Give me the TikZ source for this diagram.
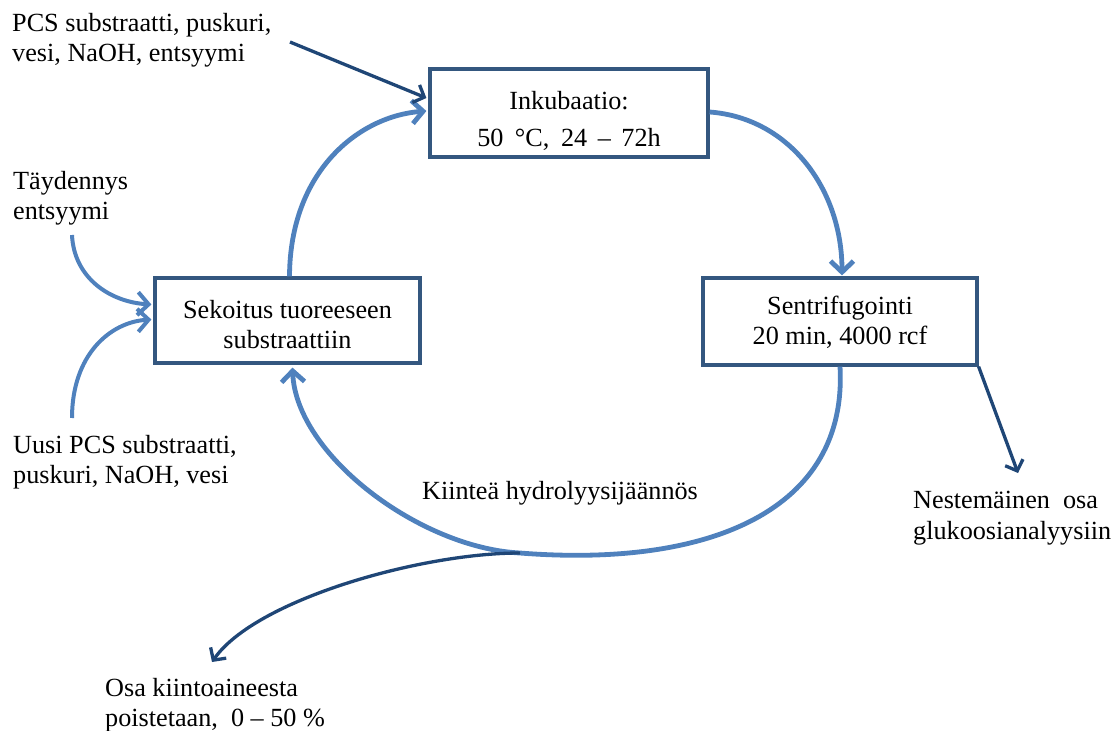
\documentclass[tikz,border=0pt]{standalone}
\usepackage{fontspec}
\setmainfont{Liberation Serif}
\usetikzlibrary{arrows.meta,calc}
\definecolor{boxline}{HTML}{34577F}
\definecolor{flow}{HTML}{4F81BD}
\definecolor{side}{HTML}{1F4676}
\begin{document}
\begin{tikzpicture}[x=1pt,y=-1pt,
  font=\fontsize{26.2}{30.5}\selectfont,
  stage/.style={draw=boxline, line width=3.2pt, inner sep=0pt},
  caption/.style={align=center, inner sep=0pt},
  note/.style={align=left, inner sep=0pt, anchor=west},
  flowarrow/.style={draw=flow, line width=4.8pt, -{Straight Barb[length=11pt,width=23pt]}},
  sidearrow/.style={draw=side, line width=3.3pt, -{Straight Barb[length=9pt,width=19pt]}}]
\useasboundingbox (0,0) rectangle (1112,731);

% process stages
\node[stage, minimum width=278pt, minimum height=88pt] (inc) at (569,113) {};
\node[caption] (inctext) at ($(inc)+(0,8)$)
  {Inkubaatio:\\[6pt]50\hspace{5pt} °C,\hspace{5pt} 24\hspace{4pt} –\hspace{4pt} 72h};
\node[stage, minimum width=265pt, minimum height=85pt] (mix) at (287.5,320.5) {};
\node[caption] (mixtext) at ($(mix)+(0,4)$) {Sekoitus tuoreeseen\\substraattiin};
\node[stage, minimum width=274pt, minimum height=87pt] (cen) at (840,321.5) {};
\node[caption] (centext) at ($(cen)+(0,1)$) {Sentrifugointi\\20 min,\ 4000 rcf};

% inputs and outputs
\node[note] (feed) at (12,40) {PCS substraatti, puskuri,\\vesi, NaOH, entsyymi};
\node[note] (enz) at (13,198) {Täydennys\\entsyymi};
\node[note] (fresh) at (13,462) {Uusi PCS substraatti,\\puskuri, NaOH, vesi};
\node[inner sep=0pt] (solid) at (560,493) {Kiinteä hydrolyysijäännös};
\node[note] (liquid) at (913,518) {Nestemäinen\ \ osa\\glukoosianalyysiin};
\node[note] (removed) at (105,705) {Osa kiintoaineesta\\poistetaan,\ \ 0 – 50 \%};

% free ends of the side connectors
\coordinate (feedend) at (290,42);
\coordinate (enzend) at (72,235);
\coordinate (freshend) at (72,418);
\coordinate (branch) at (520,553);
\coordinate (liqtip) at (1018,473);
\coordinate (remtip) at (212,662);

% main cycle
\draw[flowarrow] ($(mix.north)+(2,0)$) .. controls (290,170) and (360,116) .. ($(inc.west)+(-2,-2)$);
\draw[flowarrow] ($(inc.east)+(0,-1)$) .. controls (790,118) and (842,190) .. ($(cen.north)+(2,-1)$);
\draw[flowarrow] (cen.south) .. controls (848,510) and (710,568) .. (branch)
  .. controls (420,548) and (296,455) .. ($(mix.south)+(5,3)$);

% additions to the stages
\draw[sidearrow] (feedend) -- ($(inc.west)+(-2,-15)$);
\draw[flowarrow, line width=4pt] (enzend) .. controls (74,278) and (110,302) .. ($(mix.west)+(-2,-16)$);
\draw[flowarrow, line width=4pt] (freshend) .. controls (72,355) and (110,322) .. ($(mix.west)+(-2,-1)$);

% removals
\draw[sidearrow] (cen.south east) -- (liqtip);
\draw[sidearrow] (branch) .. controls (420,553) and (255,600) .. (remtip);
\end{tikzpicture}
\end{document}
